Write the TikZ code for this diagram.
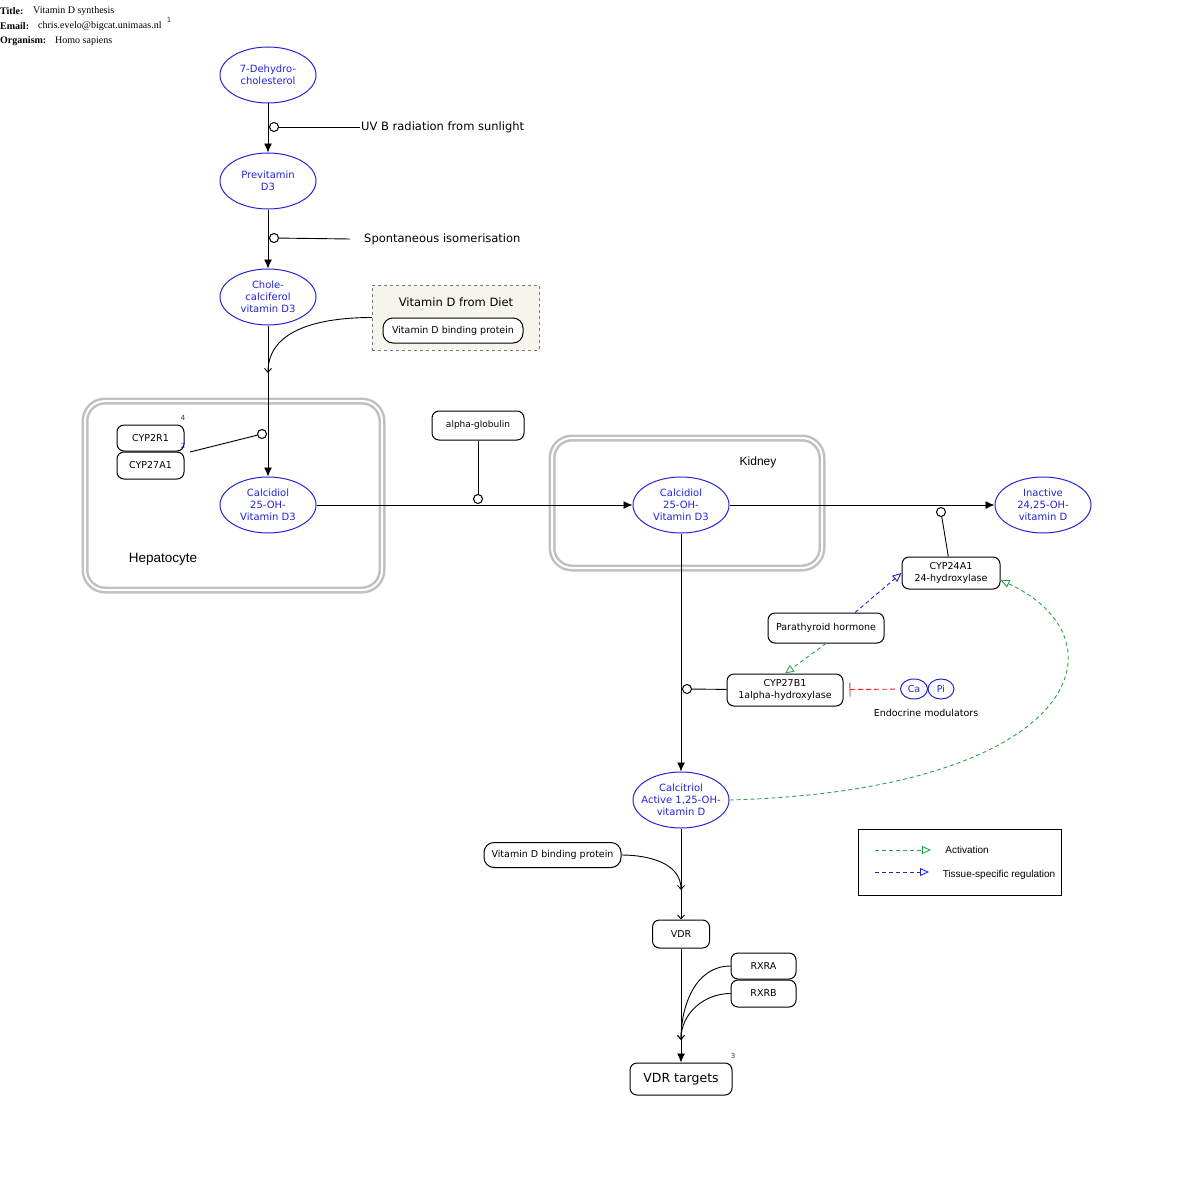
\documentclass[tikz,border=0pt]{standalone}
\usepackage{fontspec}
\setmainfont{DejaVu Sans}
\newfontfamily\headfont{Liberation Serif}
\newfontfamily\arialfont{Liberation Sans}
\usetikzlibrary{shapes, arrows.meta, fit, backgrounds, positioning}

\begin{document}
\begin{tikzpicture}[x=1pt, y=-1pt, node distance=106pt and 5cm, on grid]

\definecolor{my_blue}{RGB}{35,35,215}
\definecolor{my_navy}{RGB}{40,40,160}
\definecolor{my_green}{RGB}{40,165,70}
\definecolor{my_red}{RGB}{225,30,30}
\definecolor{my_gray}{RGB}{192,192,192}
\definecolor{my_gray_dark}{RGB}{120,120,120}
\definecolor{my_beige}{RGB}{245,245,237}

\tikzstyle{metabolite} = [ellipse, draw=my_blue, text=my_blue, line width=1pt, minimum width=96pt, minimum height=56pt, inner sep=0pt, align=center, font=\fontsize{10}{12}\selectfont]
\tikzstyle{gene} = [rectangle, draw, line width=1pt, fill=white, rounded corners=7pt, align=center, inner sep=0pt, font=\fontsize{9.5}{12}\selectfont]
\tikzstyle{catalysis} = [circle, draw, line width=1pt, fill=white, inner sep=0pt, minimum size=9pt]
\tikzstyle{compartment} = [draw=my_gray, line width=2.5pt, double=white, double distance=2pt, rounded corners=20pt]
\tikzstyle{freetext} = [inner sep=1pt, font=\fontsize{11.5}{14}\selectfont]
\tikzstyle{head} = [anchor=west, inner sep=0pt, font=\headfont\fontsize{10}{12}\selectfont]
\tikzstyle{refnum} = [inner sep=0pt, text=my_navy, font=\fontsize{7}{8}\selectfont]
\tikzstyle{line} = [draw, line width=0.9pt]
\tikzstyle{conversion} = [line, -{Latex[length=9pt, width=8pt]}]
\tikzstyle{binding} = [line, -{Straight Barb[length=4pt, width=7pt]}]
\tikzstyle{activation} = [draw=my_green, line width=0.9pt, dash pattern=on 4pt off 3pt, -{Triangle[open, length=9pt, width=8pt]}]
\tikzstyle{regulation} = [draw=my_blue, line width=0.9pt, dash pattern=on 4pt off 3pt, -{Triangle[open, length=9pt, width=8pt]}]
\tikzstyle{inhibition} = [draw=my_red, line width=0.9pt, dash pattern=on 5pt off 3pt, -{Bar[width=14pt]}]

\useasboundingbox (0,0) rectangle (1200,1204);

	\node [head] (title_key) at (0,11) {\textbf{Title:}};
	\node [head] (title_val) at (33,11) {Vitamin D synthesis};
	\node [head] (email_key) at (0,26) {\textbf{Email:}};
	\node [head] (email_val) at (38,26) {chris.evelo@bigcat.unimaas.nl};
	\node [head] (org_key) at (0,41) {\textbf{Organism:}};
	\node [head] (org_val) at (55,41) {Homo sapiens};
	\node [refnum] (ref1) at (169,20) {1};

	\node [compartment, minimum width=297pt, minimum height=189pt] (hepatocyte) at (233.5,495.5) {};
	\node [compartment, minimum width=270pt, minimum height=130pt] (kidney) at (687,503) {};
	\node [font=\arialfont\fontsize{13.5}{16}\selectfont] (hep_label) at (163,559) {Hepatocyte};
	\node [font=\arialfont\fontsize{12}{14}\selectfont] (kid_label) at (758,462) {Kidney};

	\node [metabolite] (dehydro) at (268,75) {7-Dehydro-\\cholesterol};
	\node [metabolite, below=of dehydro] (previt) {Previtamin\\D3};
	\node [metabolite, below=116pt of previt] (cholecal) {Chole-\\calciferol\\vitamin D3};
	\node [metabolite] (calcidiol_liver) at (268,505) {Calcidiol\\25-OH-\\Vitamin D3};
	\node [metabolite, right=413pt of calcidiol_liver] (calcidiol_kidney) {Calcidiol\\25-OH-\\Vitamin D3};
	\node [metabolite, right=362pt of calcidiol_kidney] (inactive) {Inactive\\24,25-OH-\\vitamin D};
	\node [metabolite, inner xsep=-7pt, below=295pt of calcidiol_kidney] (calcitriol) {Calcitriol\\Active 1,25-OH-\\vitamin D};

	\node [catalysis] (cat_uv) at (274,127) {};
	\node [freetext, anchor=west] (uv) at (360,127) {UV B radiation from sunlight};
	\node [catalysis] (cat_iso) at (274,238) {};
	\coordinate (iso_end) at (350,239);
	\node [freetext, anchor=west] (iso) at (363,239) {Spontaneous isomerisation};

	\node [draw=my_gray_dark, dashed, fill=my_beige, minimum width=167pt, minimum height=65pt] (diet) at (455.5,317.5) {};
	\node [freetext] (diet_title) at (456,302) {Vitamin D from Diet};
	\node [gene, minimum width=140pt, minimum height=25pt, rounded corners=10pt] (vdbp_diet) at (453,330.5) {Vitamin D binding protein};
	\coordinate (diet_in) at (268,373);

	\node [gene, minimum width=67pt, minimum height=26pt] (cyp2r1) at (150.5,438) {CYP2R1};
	\node [gene, minimum width=67pt, minimum height=27pt] (cyp27a1) at (150.5,465.5) {CYP27A1};
	\node [refnum] (ref4) at (183,418) {4};
	\node [refnum] (ref2) at (183,446) {2};
	\node [catalysis] (cat_liver) at (262,434) {};
	\coordinate (cyp_join) at (190,452);

	\node [gene, minimum width=92pt, minimum height=29pt, font=\fontsize{9}{11}\selectfont] (alpha) at (478,425.5) {alpha-globulin};
	\node [catalysis] (cat_alpha) at (478,499) {};

	\node [catalysis] (cat_24) at (941,512) {};
	\node [gene, minimum width=98pt, minimum height=32pt] (cyp24) at (951,573) {CYP24A1\\24-hydroxylase};
	\node [gene, minimum width=116pt, minimum height=30pt] (pth) at (826,628) {Parathyroid hormone};
	\node [gene, minimum width=116pt, minimum height=32pt] (cyp27b1) at (785,690) {CYP27B1\\1alpha-hydroxylase};
	\node [catalysis] (cat_27) at (687,689) {};
	\node [ellipse, draw=my_blue, text=my_blue, line width=1pt, minimum width=27pt, minimum height=20pt, inner sep=0pt, font=\fontsize{9.5}{11}\selectfont] (ca) at (914,689) {Ca};
	\node [ellipse, draw=my_blue, text=my_blue, line width=1pt, minimum width=26pt, minimum height=20pt, inner sep=0pt, font=\fontsize{9.5}{11}\selectfont] (pi) at (941,689) {Pi};
	\node [font=\fontsize{9.5}{11}\selectfont] (endo) at (926,713) {Endocrine modulators};

	\node [gene, minimum width=137pt, minimum height=25pt, rounded corners=10pt] (vdbp) at (552.5,855) {Vitamin D binding protein};
	\coordinate (vdbp_in) at (681,890);
	\node [gene, minimum width=57pt, minimum height=28pt] (vdr) at (681,934) {VDR};
	\node [gene, minimum width=65pt, minimum height=26pt] (rxra) at (763.5,966) {RXRA};
	\node [gene, minimum width=65pt, minimum height=27pt] (rxrb) at (763.5,993.5) {RXRB};
	\coordinate (rxr_in) at (681,1040);
	\node [gene, minimum width=102pt, minimum height=32pt, font=\fontsize{12.5}{14}\selectfont] (targets) at (681,1079) {VDR targets};
	\node [refnum] (ref3) at (733,1056) {3};

	\node [draw, line width=0.9pt, minimum width=203pt, minimum height=66pt] (legend) at (959.5,862) {};
	\coordinate (leg_a1) at (875,850);
	\coordinate (leg_a2) at (931,850);
	\coordinate (leg_r1) at (875,872);
	\coordinate (leg_r2) at (929,872);
	\node [font=\arialfont\fontsize{10}{12}\selectfont] (leg_act) at (967,850) {Activation};
	\node [font=\arialfont\fontsize{10}{12}\selectfont] (leg_reg) at (999,875) {Tissue-specific regulation};

	\path [conversion] (dehydro) -- (previt);
	\draw [line] (cat_uv) -- (uv);
	\path [conversion] (previt) -- (cholecal);
	\draw [line] (cat_iso) -- (iso_end);
	\path [conversion] (cholecal) -- (calcidiol_liver);
	\draw [binding] (diet.west) to [out=180, in=90] (diet_in);
	\draw [line] (cyp_join) -- (cat_liver);
	\path [conversion] (calcidiol_liver) -- (calcidiol_kidney);
	\draw [line] (alpha) -- (cat_alpha);
	\path [conversion] (calcidiol_kidney) -- (inactive);
	\draw [line] (cat_24) -- (cyp24);
	\path [conversion] (calcidiol_kidney) -- (calcitriol);
	\draw [line] (cat_27) -- (cyp27b1);
	\draw [regulation] ([xshift=29pt]pth.north) -- (cyp24.west);
	\draw [activation] (pth.south) -- (cyp27b1.north);
	\draw [inhibition, shorten >=6pt, shorten <=5pt] (ca) -- (cyp27b1);
	\draw [activation] (calcitriol.east) .. controls (1080,790) and (1130,640) .. ([yshift=-7pt]cyp24.east);
	\path [binding] (calcitriol) -- (vdr);
	\draw [binding] (vdbp.east) to [out=0, in=90] (vdbp_in);
	\path [conversion] (vdr) -- (targets);
	\draw [binding] (rxra.west) to [out=180, in=90] (rxr_in);
	\draw [binding] (rxrb.west) to [out=180, in=90] (rxr_in);
	\draw [activation] (leg_a1) -- (leg_a2);
	\draw [regulation] (leg_r1) -- (leg_r2);

\end{tikzpicture}
\end{document}
